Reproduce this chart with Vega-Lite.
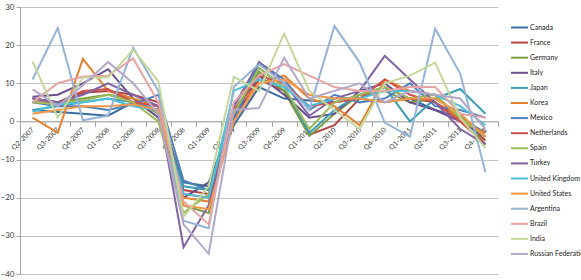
{
  "$schema": "https://vega.github.io/schema/vega-lite/v6.json",
  "width": 478,
  "height": 267,
  "autosize": {"type": "none"},
  "padding": {"left": 20, "top": 7, "right": 83, "bottom": 6},
  "config": {"view": {"stroke": null}, "font": "Lato"},
  "datasets": {
    "growth": [
      {"country": "Canada", "quarter": "Q2-2007", "value": 3},
      {"country": "Canada", "quarter": "Q3-2007", "value": 2.5},
      {"country": "Canada", "quarter": "Q4-2007", "value": 2},
      {"country": "Canada", "quarter": "Q1-2008", "value": 1.5},
      {"country": "Canada", "quarter": "Q2-2008", "value": 5},
      {"country": "Canada", "quarter": "Q3-2008", "value": 3},
      {"country": "Canada", "quarter": "Q4-2008", "value": -16},
      {"country": "Canada", "quarter": "Q1-2009", "value": -17},
      {"country": "Canada", "quarter": "Q2-2009", "value": -1},
      {"country": "Canada", "quarter": "Q3-2009", "value": 9},
      {"country": "Canada", "quarter": "Q4-2009", "value": 6},
      {"country": "Canada", "quarter": "Q1-2010", "value": 5.5},
      {"country": "Canada", "quarter": "Q2-2010", "value": 5},
      {"country": "Canada", "quarter": "Q3-2010", "value": 6},
      {"country": "Canada", "quarter": "Q4-2010", "value": 5},
      {"country": "Canada", "quarter": "Q1-2011", "value": 6},
      {"country": "Canada", "quarter": "Q2-2011", "value": 3},
      {"country": "Canada", "quarter": "Q3-2011", "value": 1},
      {"country": "Canada", "quarter": "Q4-2011", "value": -3},

      {"country": "France", "quarter": "Q2-2007", "value": 6},
      {"country": "France", "quarter": "Q3-2007", "value": 5},
      {"country": "France", "quarter": "Q4-2007", "value": 7.5},
      {"country": "France", "quarter": "Q1-2008", "value": 8},
      {"country": "France", "quarter": "Q2-2008", "value": 7},
      {"country": "France", "quarter": "Q3-2008", "value": 5},
      {"country": "France", "quarter": "Q4-2008", "value": -18},
      {"country": "France", "quarter": "Q1-2009", "value": -19},
      {"country": "France", "quarter": "Q2-2009", "value": 1},
      {"country": "France", "quarter": "Q3-2009", "value": 11},
      {"country": "France", "quarter": "Q4-2009", "value": 8},
      {"country": "France", "quarter": "Q1-2010", "value": -3.5},
      {"country": "France", "quarter": "Q2-2010", "value": -1},
      {"country": "France", "quarter": "Q3-2010", "value": 6},
      {"country": "France", "quarter": "Q4-2010", "value": 9},
      {"country": "France", "quarter": "Q1-2011", "value": 6},
      {"country": "France", "quarter": "Q2-2011", "value": 5},
      {"country": "France", "quarter": "Q3-2011", "value": 1},
      {"country": "France", "quarter": "Q4-2011", "value": -5},

      {"country": "Germany", "quarter": "Q2-2007", "value": 6},
      {"country": "Germany", "quarter": "Q3-2007", "value": 5},
      {"country": "Germany", "quarter": "Q4-2007", "value": 6},
      {"country": "Germany", "quarter": "Q1-2008", "value": 7},
      {"country": "Germany", "quarter": "Q2-2008", "value": 6},
      {"country": "Germany", "quarter": "Q3-2008", "value": 2},
      {"country": "Germany", "quarter": "Q4-2008", "value": -22},
      {"country": "Germany", "quarter": "Q1-2009", "value": -24},
      {"country": "Germany", "quarter": "Q2-2009", "value": 2},
      {"country": "Germany", "quarter": "Q3-2009", "value": 13},
      {"country": "Germany", "quarter": "Q4-2009", "value": 8},
      {"country": "Germany", "quarter": "Q1-2010", "value": -3.8},
      {"country": "Germany", "quarter": "Q2-2010", "value": 2},
      {"country": "Germany", "quarter": "Q3-2010", "value": 7},
      {"country": "Germany", "quarter": "Q4-2010", "value": 8},
      {"country": "Germany", "quarter": "Q1-2011", "value": 5},
      {"country": "Germany", "quarter": "Q2-2011", "value": 6},
      {"country": "Germany", "quarter": "Q3-2011", "value": 2},
      {"country": "Germany", "quarter": "Q4-2011", "value": -6},

      {"country": "Italy", "quarter": "Q2-2007", "value": 6.5},
      {"country": "Italy", "quarter": "Q3-2007", "value": 7},
      {"country": "Italy", "quarter": "Q4-2007", "value": 10},
      {"country": "Italy", "quarter": "Q1-2008", "value": 13.7},
      {"country": "Italy", "quarter": "Q2-2008", "value": 6},
      {"country": "Italy", "quarter": "Q3-2008", "value": 1},
      {"country": "Italy", "quarter": "Q4-2008", "value": -20},
      {"country": "Italy", "quarter": "Q1-2009", "value": -16},
      {"country": "Italy", "quarter": "Q2-2009", "value": 1},
      {"country": "Italy", "quarter": "Q3-2009", "value": 12},
      {"country": "Italy", "quarter": "Q4-2009", "value": 7},
      {"country": "Italy", "quarter": "Q1-2010", "value": 1},
      {"country": "Italy", "quarter": "Q2-2010", "value": 2},
      {"country": "Italy", "quarter": "Q3-2010", "value": 8},
      {"country": "Italy", "quarter": "Q4-2010", "value": 10},
      {"country": "Italy", "quarter": "Q1-2011", "value": 5},
      {"country": "Italy", "quarter": "Q2-2011", "value": 3},
      {"country": "Italy", "quarter": "Q3-2011", "value": 0},
      {"country": "Italy", "quarter": "Q4-2011", "value": -4},

      {"country": "Japan", "quarter": "Q2-2007", "value": 3},
      {"country": "Japan", "quarter": "Q3-2007", "value": 4},
      {"country": "Japan", "quarter": "Q4-2007", "value": 5},
      {"country": "Japan", "quarter": "Q1-2008", "value": 6},
      {"country": "Japan", "quarter": "Q2-2008", "value": 5},
      {"country": "Japan", "quarter": "Q3-2008", "value": 3},
      {"country": "Japan", "quarter": "Q4-2008", "value": -17},
      {"country": "Japan", "quarter": "Q1-2009", "value": -18},
      {"country": "Japan", "quarter": "Q2-2009", "value": 4},
      {"country": "Japan", "quarter": "Q3-2009", "value": 14},
      {"country": "Japan", "quarter": "Q4-2009", "value": 9},
      {"country": "Japan", "quarter": "Q1-2010", "value": -3},
      {"country": "Japan", "quarter": "Q2-2010", "value": 3},
      {"country": "Japan", "quarter": "Q3-2010", "value": 7},
      {"country": "Japan", "quarter": "Q4-2010", "value": 9},
      {"country": "Japan", "quarter": "Q1-2011", "value": 0},
      {"country": "Japan", "quarter": "Q2-2011", "value": 6},
      {"country": "Japan", "quarter": "Q3-2011", "value": 8.5},
      {"country": "Japan", "quarter": "Q4-2011", "value": 2},

      {"country": "Korea", "quarter": "Q2-2007", "value": 1},
      {"country": "Korea", "quarter": "Q3-2007", "value": -3},
      {"country": "Korea", "quarter": "Q4-2007", "value": 16.4},
      {"country": "Korea", "quarter": "Q1-2008", "value": 8},
      {"country": "Korea", "quarter": "Q2-2008", "value": 6},
      {"country": "Korea", "quarter": "Q3-2008", "value": 4},
      {"country": "Korea", "quarter": "Q4-2008", "value": -20},
      {"country": "Korea", "quarter": "Q1-2009", "value": -21},
      {"country": "Korea", "quarter": "Q2-2009", "value": 3},
      {"country": "Korea", "quarter": "Q3-2009", "value": 10},
      {"country": "Korea", "quarter": "Q4-2009", "value": 12},
      {"country": "Korea", "quarter": "Q1-2010", "value": 6},
      {"country": "Korea", "quarter": "Q2-2010", "value": 4},
      {"country": "Korea", "quarter": "Q3-2010", "value": -1},
      {"country": "Korea", "quarter": "Q4-2010", "value": 11},
      {"country": "Korea", "quarter": "Q1-2011", "value": 8},
      {"country": "Korea", "quarter": "Q2-2011", "value": 7},
      {"country": "Korea", "quarter": "Q3-2011", "value": 0},
      {"country": "Korea", "quarter": "Q4-2011", "value": -3},

      {"country": "Mexico", "quarter": "Q2-2007", "value": 5},
      {"country": "Mexico", "quarter": "Q3-2007", "value": 4},
      {"country": "Mexico", "quarter": "Q4-2007", "value": 4},
      {"country": "Mexico", "quarter": "Q1-2008", "value": 3},
      {"country": "Mexico", "quarter": "Q2-2008", "value": 4.5},
      {"country": "Mexico", "quarter": "Q3-2008", "value": 7},
      {"country": "Mexico", "quarter": "Q4-2008", "value": -15.5},
      {"country": "Mexico", "quarter": "Q1-2009", "value": -18},
      {"country": "Mexico", "quarter": "Q2-2009", "value": 0},
      {"country": "Mexico", "quarter": "Q3-2009", "value": 15.5},
      {"country": "Mexico", "quarter": "Q4-2009", "value": 11},
      {"country": "Mexico", "quarter": "Q1-2010", "value": 3},
      {"country": "Mexico", "quarter": "Q2-2010", "value": 7},
      {"country": "Mexico", "quarter": "Q3-2010", "value": 5},
      {"country": "Mexico", "quarter": "Q4-2010", "value": 6},
      {"country": "Mexico", "quarter": "Q1-2011", "value": 10},
      {"country": "Mexico", "quarter": "Q2-2011", "value": 4},
      {"country": "Mexico", "quarter": "Q3-2011", "value": 3},
      {"country": "Mexico", "quarter": "Q4-2011", "value": 1},

      {"country": "Netherlands", "quarter": "Q2-2007", "value": 5},
      {"country": "Netherlands", "quarter": "Q3-2007", "value": 5},
      {"country": "Netherlands", "quarter": "Q4-2007", "value": 8},
      {"country": "Netherlands", "quarter": "Q1-2008", "value": 8.5},
      {"country": "Netherlands", "quarter": "Q2-2008", "value": 5},
      {"country": "Netherlands", "quarter": "Q3-2008", "value": 4},
      {"country": "Netherlands", "quarter": "Q4-2008", "value": -19},
      {"country": "Netherlands", "quarter": "Q1-2009", "value": -20},
      {"country": "Netherlands", "quarter": "Q2-2009", "value": 3},
      {"country": "Netherlands", "quarter": "Q3-2009", "value": 12},
      {"country": "Netherlands", "quarter": "Q4-2009", "value": 10},
      {"country": "Netherlands", "quarter": "Q1-2010", "value": 4},
      {"country": "Netherlands", "quarter": "Q2-2010", "value": 5},
      {"country": "Netherlands", "quarter": "Q3-2010", "value": 6},
      {"country": "Netherlands", "quarter": "Q4-2010", "value": 11},
      {"country": "Netherlands", "quarter": "Q1-2011", "value": 7},
      {"country": "Netherlands", "quarter": "Q2-2011", "value": 5},
      {"country": "Netherlands", "quarter": "Q3-2011", "value": 0},
      {"country": "Netherlands", "quarter": "Q4-2011", "value": -6},

      {"country": "Spain", "quarter": "Q2-2007", "value": 5},
      {"country": "Spain", "quarter": "Q3-2007", "value": 4.5},
      {"country": "Spain", "quarter": "Q4-2007", "value": 5.5},
      {"country": "Spain", "quarter": "Q1-2008", "value": 7},
      {"country": "Spain", "quarter": "Q2-2008", "value": 5},
      {"country": "Spain", "quarter": "Q3-2008", "value": 0},
      {"country": "Spain", "quarter": "Q4-2008", "value": -24},
      {"country": "Spain", "quarter": "Q1-2009", "value": -19},
      {"country": "Spain", "quarter": "Q2-2009", "value": 2},
      {"country": "Spain", "quarter": "Q3-2009", "value": 14},
      {"country": "Spain", "quarter": "Q4-2009", "value": 9},
      {"country": "Spain", "quarter": "Q1-2010", "value": -2},
      {"country": "Spain", "quarter": "Q2-2010", "value": 5},
      {"country": "Spain", "quarter": "Q3-2010", "value": 7},
      {"country": "Spain", "quarter": "Q4-2010", "value": 9},
      {"country": "Spain", "quarter": "Q1-2011", "value": 6},
      {"country": "Spain", "quarter": "Q2-2011", "value": 7},
      {"country": "Spain", "quarter": "Q3-2011", "value": 1},
      {"country": "Spain", "quarter": "Q4-2011", "value": -4},

      {"country": "Turkey", "quarter": "Q2-2007", "value": 6},
      {"country": "Turkey", "quarter": "Q3-2007", "value": 5},
      {"country": "Turkey", "quarter": "Q4-2007", "value": 7},
      {"country": "Turkey", "quarter": "Q1-2008", "value": 10},
      {"country": "Turkey", "quarter": "Q2-2008", "value": 7},
      {"country": "Turkey", "quarter": "Q3-2008", "value": 4},
      {"country": "Turkey", "quarter": "Q4-2008", "value": -33},
      {"country": "Turkey", "quarter": "Q1-2009", "value": -22},
      {"country": "Turkey", "quarter": "Q2-2009", "value": 4},
      {"country": "Turkey", "quarter": "Q3-2009", "value": 15.5},
      {"country": "Turkey", "quarter": "Q4-2009", "value": 10},
      {"country": "Turkey", "quarter": "Q1-2010", "value": 1.5},
      {"country": "Turkey", "quarter": "Q2-2010", "value": 6},
      {"country": "Turkey", "quarter": "Q3-2010", "value": 8},
      {"country": "Turkey", "quarter": "Q4-2010", "value": 17.2},
      {"country": "Turkey", "quarter": "Q1-2011", "value": 11},
      {"country": "Turkey", "quarter": "Q2-2011", "value": 5},
      {"country": "Turkey", "quarter": "Q3-2011", "value": -2},
      {"country": "Turkey", "quarter": "Q4-2011", "value": -6},

      {"country": "United Kingdom", "quarter": "Q2-2007", "value": 2.5},
      {"country": "United Kingdom", "quarter": "Q3-2007", "value": 4.5},
      {"country": "United Kingdom", "quarter": "Q4-2007", "value": 5},
      {"country": "United Kingdom", "quarter": "Q1-2008", "value": 6},
      {"country": "United Kingdom", "quarter": "Q2-2008", "value": 4},
      {"country": "United Kingdom", "quarter": "Q3-2008", "value": 3},
      {"country": "United Kingdom", "quarter": "Q4-2008", "value": -19},
      {"country": "United Kingdom", "quarter": "Q1-2009", "value": -20},
      {"country": "United Kingdom", "quarter": "Q2-2009", "value": 8},
      {"country": "United Kingdom", "quarter": "Q3-2009", "value": 11},
      {"country": "United Kingdom", "quarter": "Q4-2009", "value": 9},
      {"country": "United Kingdom", "quarter": "Q1-2010", "value": 4},
      {"country": "United Kingdom", "quarter": "Q2-2010", "value": 6},
      {"country": "United Kingdom", "quarter": "Q3-2010", "value": 6},
      {"country": "United Kingdom", "quarter": "Q4-2010", "value": 8},
      {"country": "United Kingdom", "quarter": "Q1-2011", "value": 8},
      {"country": "United Kingdom", "quarter": "Q2-2011", "value": 7},
      {"country": "United Kingdom", "quarter": "Q3-2011", "value": 4},
      {"country": "United Kingdom", "quarter": "Q4-2011", "value": -1},

      {"country": "United States", "quarter": "Q2-2007", "value": 2},
      {"country": "United States", "quarter": "Q3-2007", "value": 3},
      {"country": "United States", "quarter": "Q4-2007", "value": 4},
      {"country": "United States", "quarter": "Q1-2008", "value": 4},
      {"country": "United States", "quarter": "Q2-2008", "value": 4.5},
      {"country": "United States", "quarter": "Q3-2008", "value": 3},
      {"country": "United States", "quarter": "Q4-2008", "value": -22},
      {"country": "United States", "quarter": "Q1-2009", "value": -23},
      {"country": "United States", "quarter": "Q2-2009", "value": 0},
      {"country": "United States", "quarter": "Q3-2009", "value": 10},
      {"country": "United States", "quarter": "Q4-2009", "value": 11},
      {"country": "United States", "quarter": "Q1-2010", "value": 7},
      {"country": "United States", "quarter": "Q2-2010", "value": 6},
      {"country": "United States", "quarter": "Q3-2010", "value": 6},
      {"country": "United States", "quarter": "Q4-2010", "value": 5},
      {"country": "United States", "quarter": "Q1-2011", "value": 6},
      {"country": "United States", "quarter": "Q2-2011", "value": 6},
      {"country": "United States", "quarter": "Q3-2011", "value": 2},
      {"country": "United States", "quarter": "Q4-2011", "value": -4},

      {"country": "Argentina", "quarter": "Q2-2007", "value": 11},
      {"country": "Argentina", "quarter": "Q3-2007", "value": 24.5},
      {"country": "Argentina", "quarter": "Q4-2007", "value": 0.3},
      {"country": "Argentina", "quarter": "Q1-2008", "value": 1.5},
      {"country": "Argentina", "quarter": "Q2-2008", "value": 19.3},
      {"country": "Argentina", "quarter": "Q3-2008", "value": 8},
      {"country": "Argentina", "quarter": "Q4-2008", "value": -26},
      {"country": "Argentina", "quarter": "Q1-2009", "value": -28},
      {"country": "Argentina", "quarter": "Q2-2009", "value": 9},
      {"country": "Argentina", "quarter": "Q3-2009", "value": 15},
      {"country": "Argentina", "quarter": "Q4-2009", "value": 10},
      {"country": "Argentina", "quarter": "Q1-2010", "value": 3},
      {"country": "Argentina", "quarter": "Q2-2010", "value": 25},
      {"country": "Argentina", "quarter": "Q3-2010", "value": 15.5},
      {"country": "Argentina", "quarter": "Q4-2010", "value": -0.3},
      {"country": "Argentina", "quarter": "Q1-2011", "value": -4},
      {"country": "Argentina", "quarter": "Q2-2011", "value": 24.3},
      {"country": "Argentina", "quarter": "Q3-2011", "value": 12.5},
      {"country": "Argentina", "quarter": "Q4-2011", "value": -13.3},

      {"country": "Brazil", "quarter": "Q2-2007", "value": 5},
      {"country": "Brazil", "quarter": "Q3-2007", "value": 10},
      {"country": "Brazil", "quarter": "Q4-2007", "value": 11.8},
      {"country": "Brazil", "quarter": "Q1-2008", "value": 12},
      {"country": "Brazil", "quarter": "Q2-2008", "value": 16.5},
      {"country": "Brazil", "quarter": "Q3-2008", "value": 5},
      {"country": "Brazil", "quarter": "Q4-2008", "value": -21},
      {"country": "Brazil", "quarter": "Q1-2009", "value": -27},
      {"country": "Brazil", "quarter": "Q2-2009", "value": 5},
      {"country": "Brazil", "quarter": "Q3-2009", "value": 12},
      {"country": "Brazil", "quarter": "Q4-2009", "value": 15},
      {"country": "Brazil", "quarter": "Q1-2010", "value": 12},
      {"country": "Brazil", "quarter": "Q2-2010", "value": 9},
      {"country": "Brazil", "quarter": "Q3-2010", "value": 8},
      {"country": "Brazil", "quarter": "Q4-2010", "value": 8},
      {"country": "Brazil", "quarter": "Q1-2011", "value": 9},
      {"country": "Brazil", "quarter": "Q2-2011", "value": 9},
      {"country": "Brazil", "quarter": "Q3-2011", "value": 2},
      {"country": "Brazil", "quarter": "Q4-2011", "value": 1},

      {"country": "India", "quarter": "Q2-2007", "value": 15.7},
      {"country": "India", "quarter": "Q3-2007", "value": 1},
      {"country": "India", "quarter": "Q4-2007", "value": 11.5},
      {"country": "India", "quarter": "Q1-2008", "value": 11.5},
      {"country": "India", "quarter": "Q2-2008", "value": 18.8},
      {"country": "India", "quarter": "Q3-2008", "value": 10.5},
      {"country": "India", "quarter": "Q4-2008", "value": -25},
      {"country": "India", "quarter": "Q1-2009", "value": -17},
      {"country": "India", "quarter": "Q2-2009", "value": 11.7},
      {"country": "India", "quarter": "Q3-2009", "value": 8},
      {"country": "India", "quarter": "Q4-2009", "value": 23},
      {"country": "India", "quarter": "Q1-2010", "value": 8},
      {"country": "India", "quarter": "Q2-2010", "value": 3},
      {"country": "India", "quarter": "Q3-2010", "value": -2},
      {"country": "India", "quarter": "Q4-2010", "value": 10},
      {"country": "India", "quarter": "Q1-2011", "value": 12},
      {"country": "India", "quarter": "Q2-2011", "value": 15.4},
      {"country": "India", "quarter": "Q3-2011", "value": 1},
      {"country": "India", "quarter": "Q4-2011", "value": -7},

      {"country": "Russian Federation", "quarter": "Q2-2007", "value": 8.4},
      {"country": "Russian Federation", "quarter": "Q3-2007", "value": 4},
      {"country": "Russian Federation", "quarter": "Q4-2007", "value": 9.5},
      {"country": "Russian Federation", "quarter": "Q1-2008", "value": 15.6},
      {"country": "Russian Federation", "quarter": "Q2-2008", "value": 10},
      {"country": "Russian Federation", "quarter": "Q3-2008", "value": 2},
      {"country": "Russian Federation", "quarter": "Q4-2008", "value": -27},
      {"country": "Russian Federation", "quarter": "Q1-2009", "value": -34.7},
      {"country": "Russian Federation", "quarter": "Q2-2009", "value": 3},
      {"country": "Russian Federation", "quarter": "Q3-2009", "value": 3.5},
      {"country": "Russian Federation", "quarter": "Q4-2009", "value": 16.7},
      {"country": "Russian Federation", "quarter": "Q1-2010", "value": 6},
      {"country": "Russian Federation", "quarter": "Q2-2010", "value": 8},
      {"country": "Russian Federation", "quarter": "Q3-2010", "value": 10},
      {"country": "Russian Federation", "quarter": "Q4-2010", "value": 5},
      {"country": "Russian Federation", "quarter": "Q1-2011", "value": 8},
      {"country": "Russian Federation", "quarter": "Q2-2011", "value": 7},
      {"country": "Russian Federation", "quarter": "Q3-2011", "value": 6},
      {"country": "Russian Federation", "quarter": "Q4-2011", "value": -2}
    ]
  },
  "data": {"name": "growth"},
  "mark": {"type": "line", "strokeWidth": 2},
  "encoding": {
    "x": {
      "field": "quarter",
      "type": "ordinal",
      "bandPosition": 0.5,
      "sort": ["Q2-2007", "Q3-2007", "Q4-2007", "Q1-2008", "Q2-2008", "Q3-2008", "Q4-2008", "Q1-2009", "Q2-2009", "Q3-2009", "Q4-2009", "Q1-2010", "Q2-2010", "Q3-2010", "Q4-2010", "Q1-2011", "Q2-2011", "Q3-2011", "Q4-2011"],
      "scale": {"type": "band", "paddingInner": 0, "paddingOuter": 0},
      "axis": {
        "title": null,
        "offset": -152.6,
        "grid": false,
        "tickBand": "extent",
        "tickSize": 5,
        "tickColor": "#a6a6a6",
        "domainColor": "#a6a6a6",
        "labelAngle": -45,
        "labelAlign": "right",
        "labelBaseline": "middle",
        "labelPadding": 2,
        "labelFontSize": 7,
        "labelColor": "#404040",
        "labelOverlap": false
      }
    },
    "y": {
      "field": "value",
      "type": "quantitative",
      "scale": {"domain": [-40, 30], "nice": false, "zero": false},
      "axis": {
        "title": null,
        "values": [-40, -30, -20, -10, 0, 10, 20, 30],
        "gridColor": "#c4c4c4",
        "tickSize": 4,
        "tickColor": "#a6a6a6",
        "domainColor": "#a6a6a6",
        "labelFontSize": 8,
        "labelPadding": 2,
        "labelColor": "#404040"
      }
    },
    "color": {
      "field": "country",
      "type": "nominal",
      "scale": {
        "domain": ["Canada", "France", "Germany", "Italy", "Japan", "Korea", "Mexico", "Netherlands", "Spain", "Turkey", "United Kingdom", "United States", "Argentina", "Brazil", "India", "Russian Federation"],
        "range": ["#3b6ea0", "#b04745", "#7e9b40", "#6a4f8f", "#3a9db5", "#e4822f", "#4f81bd", "#d0504d", "#9bbb59", "#8064a2", "#4bc0d8", "#f79646", "#95b3d7", "#e6a4a3", "#c4d79b", "#b3a8c8"]
      },
      "legend": {
        "title": null,
        "orient": "none",
        "legendX": 490,
        "legendY": 11,
        "symbolType": "stroke",
        "symbolSize": 289,
        "symbolStrokeWidth": 2,
        "labelFontSize": 7,
        "labelOffset": 1,
        "rowPadding": 1.1,
        "labelColor": "#222222",
        "labelLimit": 200
      }
    }
  }
}
